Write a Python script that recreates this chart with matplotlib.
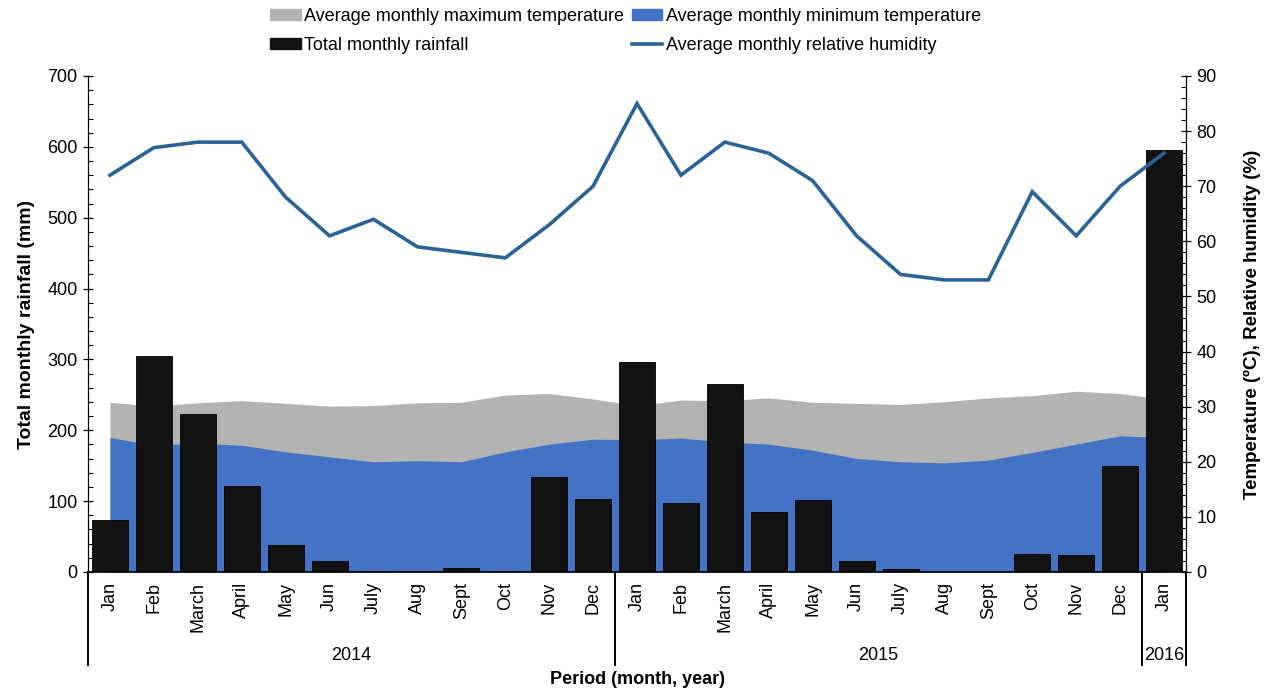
import numpy as np
import matplotlib
matplotlib.use("Agg")
import matplotlib.pyplot as plt
import matplotlib.transforms as mtransforms
from matplotlib.patches import Patch
from matplotlib.lines import Line2D
from matplotlib.ticker import MultipleLocator

plt.rcParams["font.family"] = ["Liberation Sans", "DejaVu Sans"]

# data
months = ["Jan", "Feb", "March", "April", "May", "Jun", "July", "Aug", "Sept", "Oct", "Nov", "Dec",
          "Jan", "Feb", "March", "April", "May", "Jun", "July", "Aug", "Sept", "Oct", "Nov", "Dec",
          "Jan"]
years = ["2014", "2015", "2016"]
year_first = [0, 12, 24]
year_last = [11, 23, 24]

rainfall = [73, 305, 223, 121, 38, 16, 1, 1, 5, 1, 134, 103,
            296, 97, 265, 84, 102, 16, 4, 0, 0, 26, 24, 150,
            595]
tmax = [30.8, 30.1, 30.7, 31.1, 30.6, 30.1, 30.2, 30.7, 30.8, 32.1, 32.4, 31.4,
        30.2, 31.2, 31.1, 31.6, 30.8, 30.6, 30.4, 30.9, 31.6, 32.0, 32.8, 32.4,
        31.3]
tmin = [24.4, 23.0, 23.4, 23.0, 21.8, 20.9, 20.0, 20.2, 20.0, 21.8, 23.2, 24.1,
        24.0, 24.3, 23.6, 23.2, 22.1, 20.6, 20.0, 19.8, 20.3, 21.7, 23.2, 24.7,
        24.4]
humidity = [72, 77, 78, 78, 68, 61, 64, 59, 58, 57, 63, 70,
            85, 72, 78, 76, 71, 61, 54, 53, 53, 69, 61, 70,
            76]

# colours
GREY = "#b3b3b3"
BLUE = "#4472c4"
BAR = "#121212"
LINE = "#2b6396"

W, H = 1274, 690
fig = plt.figure(figsize=(W / 100, H / 100), dpi=100)
x0, x1, y0, y1 = 88, 1186, 76, 572
rect = [x0 / W, 1 - y1 / H, (x1 - x0) / W, (y1 - y0) / H]

ax = fig.add_axes(rect)      # rainfall bars, left scale
axT = ax.twinx()             # temperature areas
axH = ax.twinx()             # humidity line + right axis
axT.set_zorder(0)
ax.set_zorder(1)
axH.set_zorder(2)
ax.patch.set_visible(False)
axT.patch.set_visible(True)
axT.patch.set_facecolor("white")

x = np.arange(len(months))

axT.fill_between(x, 0, tmax, color=GREY, lw=0)
axT.fill_between(x, 0, tmin, color=BLUE, lw=0)
ax.bar(x, rainfall, width=0.82, color=BAR, edgecolor="#000000", linewidth=0.6)
axH.plot(x, humidity, color=LINE, lw=2.6, solid_joinstyle="miter")

ax.set_xlim(-0.5, len(months) - 0.5)
ax.set_ylim(0, 700)
axT.set_ylim(0, 90)
axH.set_ylim(0, 90)

# left axis
ax.yaxis.set_major_locator(MultipleLocator(100))
ax.yaxis.set_minor_locator(MultipleLocator(20))
ax.tick_params(axis="y", which="major", direction="inout", length=7, width=0.9,
               labelsize=13, pad=4)
ax.tick_params(axis="y", which="minor", direction="in", length=3.5, width=0.8)
ax.set_ylabel("Total monthly rainfall (mm)", fontsize=14, fontweight="bold", labelpad=9)

# month labels
ax.set_xticks(x)
ax.set_xticklabels(months, rotation=90, fontsize=13)
ax.tick_params(axis="x", length=0, pad=7)

for s in ["top", "right"]:
    ax.spines[s].set_visible(False)
ax.spines["left"].set_linewidth(0.9)
ax.spines["bottom"].set_linewidth(1.2)

# temperature axis hidden, humidity axis carries the right scale
axT.axis("off")
for s in ["top", "left", "bottom"]:
    axH.spines[s].set_visible(False)
axH.spines["right"].set_linewidth(0.9)
axH.yaxis.set_major_locator(MultipleLocator(10))
axH.yaxis.set_minor_locator(MultipleLocator(2))
axH.tick_params(axis="y", which="major", direction="inout", length=7, width=0.9,
                labelsize=13, pad=4)
axH.tick_params(axis="y", which="minor", direction="in", length=3.5, width=0.8)
axH.set_ylabel("Temperature (ºC), Relative humidity (%)", fontsize=13.5,
               fontweight="bold", labelpad=20)

# year groups
trans = mtransforms.blended_transform_factory(ax.transData, ax.transAxes)
sep_bottom = -(665 - 572) / (y1 - y0)
bounds = [year_first[0] - 0.5] + [l + 0.5 for l in year_last]
for b in bounds:
    ax.plot([b, b], [0, sep_bottom], color="black", lw=1.4, transform=trans, clip_on=False)
for name, a, b in zip(years, year_first, year_last):
    ax.text((a + b) / 2, -(655 - 572) / (y1 - y0), name, transform=trans,
            ha="center", va="center", fontsize=13)
ax.text(0.5, -(680 - 572) / (y1 - y0), "Period (month, year)", transform=ax.transAxes,
        ha="center", va="center", fontsize=13, fontweight="bold")

# legend
handles = [Patch(color=GREY), Patch(color=BAR), Patch(color=BLUE),
           Line2D([], [], color=LINE, lw=2.6)]
labels = ["Average monthly maximum temperature", "Total monthly rainfall",
          "Average monthly minimum temperature", "Average monthly relative humidity"]
fig.legend(handles, labels, loc="upper left", bbox_to_anchor=(270 / W, 1 - 8 / H),
           ncol=2, frameon=False, fontsize=13, handlelength=1.7, handleheight=0.55,
           handletextpad=0.2, columnspacing=0.4, labelspacing=0.65,
           borderpad=0, borderaxespad=0)

fig.savefig("out.png", dpi=100)
